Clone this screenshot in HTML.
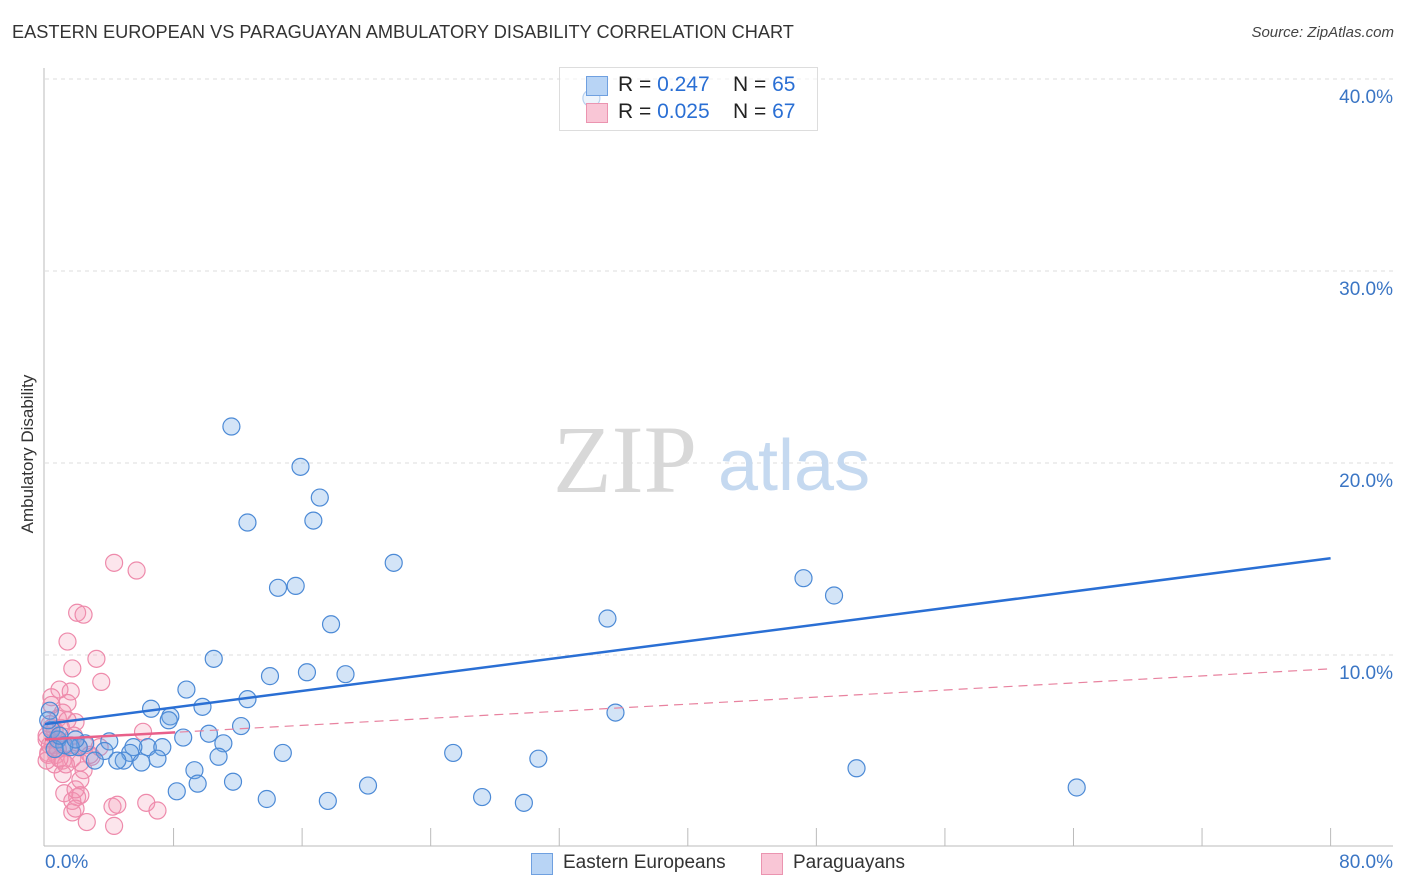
<!DOCTYPE html>
<html><head><meta charset="utf-8">
<style>
body{margin:0;background:#fff;font-family:"Liberation Sans",sans-serif;}
#wrap{position:relative;width:1406px;height:892px;overflow:hidden;}
.t{position:absolute;white-space:nowrap;}
</style></head>
<body>
<div id="wrap">
<div class="t" style="left:12px;top:22px;font-size:18.2px;color:#333;">EASTERN EUROPEAN VS PARAGUAYAN AMBULATORY DISABILITY CORRELATION CHART</div>
<div class="t" style="right:12px;top:24px;font-size:15px;color:#444;font-style:italic;">Source: ZipAtlas.com</div>
<div class="t" style="left:-52px;top:444px;font-size:17px;color:#333;transform:rotate(-90deg);width:160px;text-align:center;">Ambulatory Disability</div>
<svg id="svg" width="1406" height="892" style="position:absolute;left:0;top:0"></svg>
</div>
<script>
const blueX=[11.6,15.9,17.1,12.6,16.7,21.7,14.5,15.6,17.8,10.5,14.0,16.3,18.7,8.8,12.6,6.6,9.8,7.8,7.7,12.2,10.2,8.6,11.1,14.8,6.4,7.3,5.5,4.0,2.5,2.1,3.7,5.3,4.9,3.1,4.5,6.0,7.0,10.8,9.3,8.2,9.5,11.7,13.8,17.6,20.1,27.2,29.8,25.4,30.7,35.5,35.0,47.2,49.1,50.5,64.2,34.0,0.3,0.4,0.8,1.2,1.6,0.6,0.9,1.9,0.2];
const blueY=[21.9,19.8,18.2,16.9,17.0,14.8,13.5,13.6,11.6,9.8,8.9,9.1,9.0,8.2,7.7,7.2,7.3,6.8,6.6,6.3,5.9,5.7,5.4,4.9,5.2,5.2,5.2,5.5,5.4,5.2,5.0,4.9,4.5,4.5,4.5,4.4,4.6,4.7,4.0,2.9,3.3,3.4,2.5,2.4,3.2,2.6,2.3,4.9,4.6,7.0,11.9,14.0,13.1,4.1,3.1,39.0,7.1,6.1,5.6,5.3,5.2,5.1,5.8,5.6,6.6];
const pinkX=[4.3,5.7,2.0,2.4,1.4,3.2,1.7,3.5,0.9,1.6,0.4,1.4,1.1,0.8,1.9,0.3,0.6,0.9,0.1,0.5,1.2,1.6,2.1,0.2,0.7,1.1,1.7,2.2,2.4,1.1,2.9,6.1,6.3,7.0,4.2,4.5,2.0,2.2,1.2,1.7,1.7,1.9,2.6,4.3,0.2,0.6,1.3,1.0,1.4,0.4,0.7,1.8,0.9,2.5,2.8,3.4,1.9,2.2,0.1,0.3,0.8,0.1,0.4];
const pinkY=[14.8,14.4,12.2,12.1,10.7,9.8,9.3,8.6,8.2,8.1,7.8,7.5,7.0,6.7,6.5,6.4,6.1,5.8,5.6,5.3,5.2,5.3,5.2,4.9,4.8,4.5,4.6,4.4,4.0,3.8,4.7,6.0,2.3,1.9,2.1,2.2,2.6,2.7,2.8,2.4,1.8,2.0,1.3,1.1,4.8,4.3,4.3,6.2,6.6,7.4,5.6,5.8,4.6,5.3,4.8,5.2,3.0,3.5,5.8,5.3,5.1,4.5,6.2];
const yTicks=[10,20,30,40];
const yTickLabels=["10.0%","20.0%","30.0%","40.0%"];
const xTicks=[0,8,16,24,32,40,48,56,64,72,80];
const blueTrend=[6.4,0.108];
const pinkTrend=[5.6,0.046];
const pinkSolidEnd=8.1;

const X=v=>45+v*16.07, Y=v=>847-v*19.2;
const svg=document.getElementById('svg');
const NS='http://www.w3.org/2000/svg';
function mk(tag,attrs,parent){const e=document.createElementNS(NS,tag);for(const k in attrs)e.setAttribute(k,attrs[k]);(parent||svg).appendChild(e);return e;}

yTicks.forEach((v,i)=>{
  const g=mk('line',{x1:45,x2:1393,y1:Y(v),y2:Y(v),stroke:'#dcdcdc','stroke-dasharray':'4,4'});
  
  
  const t=mk('text',{x:1393,y:Y(v)+24,'text-anchor':'end','font-size':19,fill:'#3a75c4','font-family':'Liberation Sans'});
  t.textContent=yTickLabels[i];
  
  
});
const ax=mk('line',{x1:44,x2:44,y1:68,y2:846,stroke:'#bbb'});


const bx=mk('line',{x1:44,x2:1393,y1:846,y2:846,stroke:'#bbb'});


xTicks.forEach(v=>{if(v===0)return;
  const l=mk('line',{x1:X(v),x2:X(v),y1:828,y2:846,stroke:'#bbb'});
  
  
});
const wm=mk('text',{x:553,y:492,'font-size':96,fill:'#d8d8d8','font-family':'Liberation Serif'});wm.textContent='ZIP';


const wm2=mk('text',{x:718,y:490,'font-size':72,fill:'#c5d9f0','font-family':'Liberation Sans'});wm2.textContent='atlas';



pinkX.forEach((x,i)=>{const c=mk('circle',{cx:X(x),cy:Y(pinkY[i]),r:8.5,fill:'rgba(244,150,180,0.25)',stroke:'#ee8aab','stroke-width':1.2});
  
  });
blueX.forEach((x,i)=>{const c=mk('circle',{cx:X(x),cy:Y(blueY[i]),r:8.5,fill:'rgba(110,165,230,0.3)',stroke:'#4c8ad6','stroke-width':1.2});
  
  });

const pd=mk('line',{x1:X(0),y1:Y(pinkTrend[0]),x2:X(80),y2:Y(pinkTrend[0]+pinkTrend[1]*80),stroke:'#e8829f','stroke-width':1.2,'stroke-dasharray':'9,6'});


const ps=mk('line',{x1:X(0),y1:Y(pinkTrend[0]),x2:X(pinkSolidEnd),y2:Y(pinkTrend[0]+pinkTrend[1]*pinkSolidEnd),stroke:'#e8608a','stroke-width':2.5});


const bl=mk('line',{x1:X(0),y1:Y(blueTrend[0]),x2:X(80),y2:Y(blueTrend[0]+blueTrend[1]*80),stroke:'#2a6fd4','stroke-width':2.5});


</script>
<div class="t" style="left:559px;top:67px;width:257px;height:62px;border:1px solid #ddd;background:rgba(255,255,255,0.6);font-size:21px;color:#222;">
  <div style="position:absolute;left:26px;top:8px;width:20px;height:18px;background:#b8d4f5;border:1px solid #6fa0e0;"></div>
  <div style="position:absolute;left:58px;top:5px;">R = <span style="color:#2a6fd4">0.247</span>&nbsp;&nbsp;&nbsp; N = <span style="color:#2a6fd4">65</span></div>
  <div style="position:absolute;left:26px;top:35px;width:20px;height:18px;background:#f9c6d6;border:1px solid #eb94b0;"></div>
  <div style="position:absolute;left:58px;top:32px;">R = <span style="color:#2a6fd4">0.025</span>&nbsp;&nbsp;&nbsp; N = <span style="color:#2a6fd4">67</span></div>
</div>
<div class="t" style="left:45px;top:852px;font-size:19px;color:#3a75c4;">0.0%</div>
<div class="t" style="right:13px;top:852px;font-size:19px;color:#3a75c4;">80.0%</div>
<div class="t" style="left:531px;top:853px;width:20px;height:20px;background:#b8d4f5;border:1px solid #6fa0e0;"></div>
<div class="t" style="left:563px;top:852px;font-size:19px;color:#333;">Eastern Europeans</div>
<div class="t" style="left:761px;top:853px;width:20px;height:20px;background:#f9c6d6;border:1px solid #eb94b0;"></div>
<div class="t" style="left:793px;top:852px;font-size:19px;color:#333;">Paraguayans</div>
</body></html>
